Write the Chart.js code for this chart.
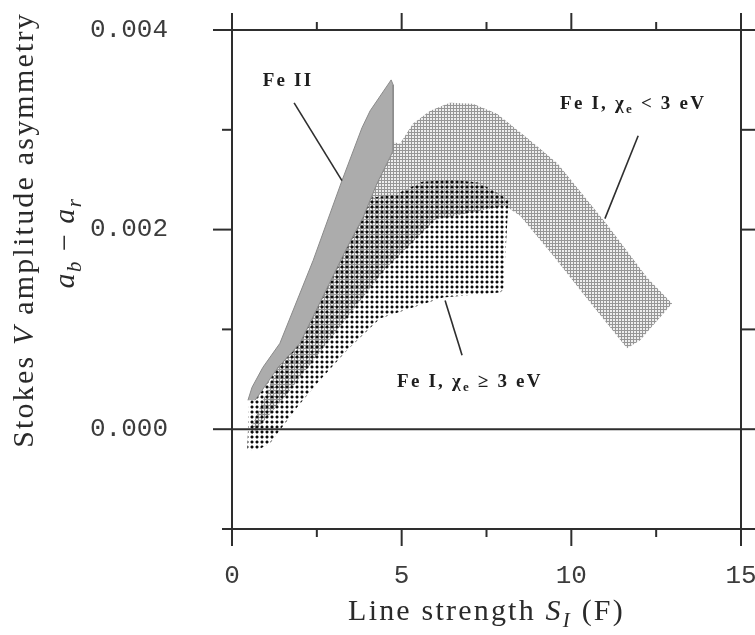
<!DOCTYPE html>
<html>
<head>
<meta charset="utf-8">
<script src="https://cdn.jsdelivr.net/npm/chart.js@4"></script>
<style>
  html, body { margin: 0; padding: 0; background: #fff; }
</style>
</head>
<body>
<canvas id="stokesChart" width="755" height="635"></canvas>
<script>
// outlines of the three shaded regions (S in F, asymmetry a_b - a_r)
var feIIS = [0.47, 0.59, 0.91, 1.41, 2.39, 3.24, 3.83, 4.07, 4.69, 4.75, 4.75, 4.27, 3.86, 3.39, 2.0, 1.36, 0.68];
var feIIA = [0.00029, 0.00042, 0.00062, 0.00086, 0.00169, 0.00249, 0.00302, 0.00319, 0.0035, 0.00345, 0.00279, 0.00246, 0.00212, 0.00182, 0.00086, 0.00062, 0.00029];

var highChiS = [0.45, 0.5, 1.5, 2.6, 3.6, 4.8, 5.6, 6.5, 7.3, 8.15, 8.0, 7.9, 6.22, 5.33, 4.36, 3.39, 2.51, 1.92, 1.41, 1.12, 0.8, 0.53];
var highChiA = [-0.0002, 0.00025, 0.0009, 0.0017, 0.0023, 0.00235, 0.00248, 0.0025, 0.00247, 0.0023, 0.0014, 0.00137, 0.00132, 0.00122, 0.00111, 0.00079, 0.00046, 0.00022, -0.00001, -0.00014, -0.0002, -0.00021];

var lowChiS = [0.55, 1.5, 3.0, 4.5, 4.95, 5.33, 5.84, 6.42, 7.10, 7.81, 8.69, 9.08, 9.6, 11.05, 12.23, 12.97, 12.02, 11.64, 10.46, 9.46, 8.49, 8.05, 6.0, 4.5, 3.0, 1.5, 0.6];
var lowChiA = [0.0, 0.00075, 0.0019, 0.0029, 0.00286, 0.00306, 0.00319, 0.00327, 0.00326, 0.00316, 0.00292, 0.00281, 0.00266, 0.00205, 0.00152, 0.00126, 0.00089, 0.00081, 0.00131, 0.00174, 0.00214, 0.00224, 0.0021, 0.0016, 0.00095, 0.0003, -0.00005];

// axis ticks
var xTickStep = 2.5;
var yTickStep = 0.001;

// region labels: text parts, label centre (S, a), leader line from / to (S, a)
var notes = [
  { parts: [["Fe II", ""]], s: 1.65, a: 0.00349, from: [1.83, 0.00327], to: [3.24, 0.00249] },
  { parts: [["Fe I, ", ""], ["\u03c7", ""], ["e", "sub"], [" < 3 eV", ""]], s: 11.82, a: 0.00326, from: [11.97, 0.00294], to: [10.99, 0.00211] },
  { parts: [["Fe I, ", ""], ["\u03c7", ""], ["e", "sub"], [" \u2265 3 eV", ""]], s: 7.01, a: 0.00047, from: [6.28, 0.00129], to: [6.78, 0.00074] }
];

var yTitleTop = [["Stokes ", ""], ["V", "i"], [" amplitude asymmetry", ""]];
var yTitleBottom = [["a", "i"], ["b", "isub"], [" \u2212 ", ""], ["a", "i"], ["r", "isub"]];
var xTitle = [["Line strength ", ""], ["S", "i"], ["I", "isub"], [" (F)", ""]];

function toPoints(xs, ys) {
  return xs.map(function (x, i) { return { x: x, y: ys[i] }; });
}

function makePattern(size, draw) {
  var c = document.createElement("canvas");
  c.width = size;
  c.height = size;
  draw(c.getContext("2d"));
  return document.createElement("canvas").getContext("2d").createPattern(c, "repeat");
}

var gridFill = makePattern(3, function (g) {
  g.fillStyle = "rgba(222,222,222,0.5)"; g.fillRect(1, 1, 2, 2);
  g.fillStyle = "rgba(85,85,85,0.62)"; g.fillRect(0, 0, 3, 1); g.fillRect(0, 1, 1, 2);
});
var dotFill = makePattern(5, function (g) {
  g.fillStyle = "rgba(10,10,10,1)"; g.fillRect(1, 1, 2, 2);
  g.fillStyle = "rgba(10,10,10,0.4)";
  g.fillRect(0, 1, 1, 2); g.fillRect(3, 1, 1, 2); g.fillRect(1, 0, 2, 1); g.fillRect(1, 3, 2, 1);
});

function partFont(style, size) {
  var italic = style === "i" || style === "isub" ? "italic " : "";
  var sz = style === "sub" || style === "isub" ? Math.round(size * 0.7) : size;
  return italic + sz + "px 'Liberation Serif'";
}

function drawRich(c, parts, cx, cy, size, spacing, weight) {
  var w = 0;
  c.letterSpacing = spacing + "px";
  parts.forEach(function (p) {
    c.font = (weight || "") + " " + partFont(p[1], size);
    w += c.measureText(p[0]).width;
  });
  var x = cx - w / 2;
  c.textAlign = "left";
  c.textBaseline = "middle";
  parts.forEach(function (p) {
    c.font = (weight || "") + " " + partFont(p[1], size);
    var dy = p[1] === "sub" || p[1] === "isub" ? size * 0.3 : 0;
    c.fillText(p[0], x, cy + dy);
    x += c.measureText(p[0]).width;
  });
  c.letterSpacing = "0px";
}

function seg(c, x1, y1, x2, y2) {
  c.beginPath();
  c.moveTo(x1, y1);
  c.lineTo(x2, y2);
  c.stroke();
}

var framePlugin = {
  id: "frame",
  afterDatasetsDraw: function (chart) {
    var c = chart.ctx, a = chart.chartArea, xs = chart.scales.x, ys = chart.scales.y;
    c.save();
    c.strokeStyle = "#2e2e2e";
    c.lineWidth = 2;
    c.strokeRect(a.left, a.top, a.right - a.left, a.bottom - a.top);
    var y0 = ys.getPixelForValue(0);
    seg(c, a.left, y0, a.right, y0);
    xs.ticks.forEach(function (t) {
      var px = xs.getPixelForValue(t.value);
      var len = t.value % 5 === 0 ? 17 : 8;
      seg(c, px, a.bottom, px, a.bottom + len);
      seg(c, px, a.top, px, a.top - len);
    });
    ys.ticks.forEach(function (t) {
      var py = ys.getPixelForValue(t.value);
      var len = Math.round(t.value * 1000) % 2 === 0 ? 19 : 10;
      seg(c, a.left, py, a.left - len, py);
      seg(c, a.right, py, a.right + 14, py);
    });

    // region labels
    c.fillStyle = "#1e1e1e";
    c.lineWidth = 1.6;
    notes.forEach(function (n) {
      seg(c, xs.getPixelForValue(n.from[0]), ys.getPixelForValue(n.from[1]),
        xs.getPixelForValue(n.to[0]), ys.getPixelForValue(n.to[1]));
      drawRich(c, n.parts, xs.getPixelForValue(n.s), ys.getPixelForValue(n.a), 19, 2.2, "bold");
    });

    // axis titles
    c.fillStyle = "#2a2a2a";
    drawRich(c, xTitle, (a.left + a.right) / 2, 612, 30, 2.2);
    c.save();
    c.translate(25, 230);
    c.rotate(-Math.PI / 2);
    drawRich(c, yTitleTop, 0, 0, 30, 2.2);
    c.restore();
    c.save();
    c.translate(66, 243);
    c.rotate(-Math.PI / 2);
    drawRich(c, yTitleBottom, 0, 0, 30, 1.5);
    c.restore();
    c.restore();
  }
};

var ctx = document.getElementById("stokesChart").getContext("2d");
var stokesChart = new Chart(ctx, {
  type: "scatter",
  data: {
    datasets: [
      {
        label: "Fe II",
        data: toPoints(feIIS, feIIA),
        showLine: true,
        fill: "shape",
        backgroundColor: "#acacac",
        borderColor: "#8a8a8a",
        borderWidth: 1,
        pointRadius: 0,
      },
      {
        label: "Fe I, chi >= 3 eV",
        data: toPoints(highChiS, highChiA),
        showLine: true,
        fill: "shape",
        backgroundColor: dotFill,
        borderWidth: 0,
        pointRadius: 0,
      },
      {
        label: "Fe I, chi < 3 eV",
        data: toPoints(lowChiS, lowChiA),
        showLine: true,
        fill: "shape",
        backgroundColor: gridFill,
        borderWidth: 0,
        pointRadius: 0,
      },
    ],
  },
  options: {
    responsive: false,
    animation: false,
    events: [],
    layout: { padding: { left: 0, right: 14, top: 30, bottom: 0 } },
    plugins: { legend: { display: false }, tooltip: { enabled: false } },
    scales: {
      x: {
        type: "linear",
        min: 0,
        max: 15,
        grid: { display: false, drawTicks: false },
        border: { display: false },
        ticks: {
          stepSize: xTickStep,
          autoSkip: false,
          maxRotation: 0,
          padding: 32,
          color: "#3c3c3c",
          font: { family: "'Liberation Mono'", size: 26 },
          callback: function (v) { return v % 5 === 0 ? String(v) : ""; },
        },
        afterFit: function (s) { s.height = 106; s.paddingLeft = 0; s.paddingRight = 0; },
      },
      y: {
        min: -0.001,
        max: 0.004,
        grid: { display: false, drawTicks: false },
        border: { display: false },
        ticks: {
          stepSize: yTickStep,
          autoSkip: false,
          padding: 64,
          color: "#3c3c3c",
          font: { family: "'Liberation Mono'", size: 26 },
          callback: function (v) {
            var k = Math.round(v * 1000);
            return k >= 0 && k % 2 === 0 ? (k / 1000).toFixed(3) : "";
          },
        },
        afterFit: function (s) { s.width = 232; s.paddingTop = 0; s.paddingBottom = 0; },
      },
    },
  },
  plugins: [framePlugin],
});
</script>
</body>
</html>
